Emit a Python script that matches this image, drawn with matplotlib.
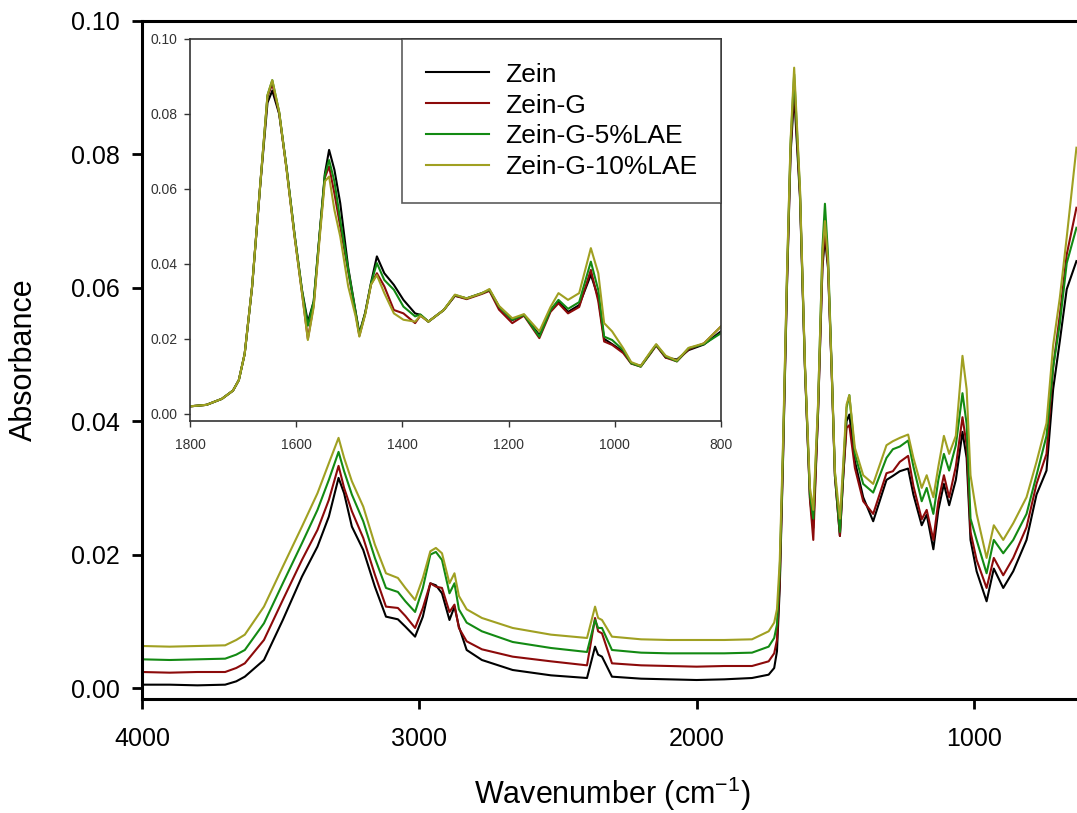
import matplotlib
matplotlib.use("Agg")
import matplotlib.pyplot as plt

plt.rcParams['font.family'] = ['Liberation Sans', 'DejaVu Sans']

# ======================================================
# FTIR spectra (full range)
# ======================================================
labels = ["Zein", "Zein-G", "Zein-G-5%LAE", "Zein-G-10%LAE"]
colors = ["#000000", "#8c0a0a", "#138a13", "#a0a022"]

wn_full = [4000, 3900, 3800, 3700, 3660, 3629, 3560, 3492, 3423, 3367, 3326, 3291, 3271, 3243,
           3202, 3160, 3120, 3077, 3050, 3015, 2987, 2960, 2940, 2918, 2891, 2873, 2857, 2829,
           2774, 2663, 2525, 2395, 2366, 2355, 2341, 2305, 2200, 2100, 2000, 1900, 1800, 1740,
           1720, 1710, 1700, 1688, 1674, 1661, 1648, 1627, 1609, 1591, 1579, 1562, 1546, 1537,
           1526, 1513, 1501, 1483, 1472, 1459, 1449, 1429, 1399, 1363, 1315, 1292, 1267, 1237,
           1218, 1188, 1170, 1146, 1128, 1108, 1089, 1065, 1041, 1026, 1012, 990, 954, 928,
           894, 858, 810, 774, 738, 714, 690, 665, 630]

zein = [0.0005, 0.0005, 0.0004, 0.0005, 0.0010, 0.0017, 0.0042, 0.0102, 0.0167, 0.0212, 0.0257,
        0.0315, 0.0292, 0.0242, 0.0207, 0.0152, 0.0107, 0.0103, 0.0092, 0.0077, 0.0107, 0.0157,
        0.0154, 0.0142, 0.0102, 0.0122, 0.0092, 0.0057, 0.0042, 0.0027, 0.0019, 0.0015, 0.0062,
        0.0050, 0.0047, 0.0017, 0.0014, 0.0013, 0.0012, 0.0013, 0.0015, 0.0020, 0.0030, 0.0055,
        0.0150, 0.0345, 0.0600, 0.0800, 0.0890, 0.0735, 0.0478, 0.0285, 0.0240, 0.0410, 0.0630,
        0.0676, 0.0630, 0.0478, 0.0318, 0.0228, 0.0310, 0.0400, 0.0410, 0.0340, 0.0286, 0.0250,
        0.0312, 0.0318, 0.0325, 0.0329, 0.0290, 0.0244, 0.0260, 0.0208, 0.0267, 0.0306, 0.0274,
        0.0312, 0.0384, 0.0345, 0.0222, 0.0175, 0.0130, 0.0179, 0.0150, 0.0175, 0.0222, 0.0290,
        0.0326, 0.0448, 0.0520, 0.0598, 0.0640]

zein_g = [0.0024, 0.0023, 0.0024, 0.0024, 0.0030, 0.0037, 0.0072, 0.0132, 0.0192, 0.0237, 0.0282,
          0.0333, 0.0300, 0.0265, 0.0225, 0.0170, 0.0122, 0.0120, 0.0108, 0.0090, 0.0120, 0.0157,
          0.0152, 0.0150, 0.0114, 0.0125, 0.0090, 0.0070, 0.0058, 0.0047, 0.0040, 0.0034, 0.0105,
          0.0085, 0.0082, 0.0037, 0.0034, 0.0033, 0.0032, 0.0033, 0.0033, 0.0040, 0.0052, 0.0072,
          0.0160, 0.0350, 0.0605, 0.0805, 0.0905, 0.0740, 0.0480, 0.0282, 0.0222, 0.0412, 0.0635,
          0.0690, 0.0635, 0.0480, 0.0318, 0.0228, 0.0312, 0.0390, 0.0394, 0.0330, 0.0280, 0.0261,
          0.0322, 0.0325, 0.0339, 0.0348, 0.0303, 0.0253, 0.0267, 0.0222, 0.0280, 0.0319, 0.0286,
          0.0332, 0.0406, 0.0364, 0.0234, 0.0192, 0.0150, 0.0195, 0.0169, 0.0195, 0.0241, 0.0306,
          0.0351, 0.0481, 0.0559, 0.0650, 0.0720]

zein_g_5 = [0.0043, 0.0042, 0.0043, 0.0044, 0.0050, 0.0057, 0.0097, 0.0157, 0.0217, 0.0267, 0.0312,
            0.0354, 0.0325, 0.0290, 0.0250, 0.0195, 0.0150, 0.0144, 0.0130, 0.0114, 0.0150, 0.0200,
            0.0204, 0.0192, 0.0142, 0.0157, 0.0118, 0.0098, 0.0085, 0.0069, 0.0060, 0.0054, 0.0102,
            0.0090, 0.0090, 0.0057, 0.0053, 0.0052, 0.0052, 0.0052, 0.0053, 0.0062, 0.0075, 0.0095,
            0.0175, 0.0360, 0.0615, 0.0815, 0.0920, 0.0745, 0.0482, 0.0290, 0.0254, 0.0420, 0.0660,
            0.0726, 0.0650, 0.0485, 0.0322, 0.0234, 0.0320, 0.0420, 0.0439, 0.0351, 0.0306, 0.0293,
            0.0345, 0.0358, 0.0362, 0.0371, 0.0332, 0.0280, 0.0300, 0.0261, 0.0312, 0.0351, 0.0326,
            0.0364, 0.0442, 0.0396, 0.0254, 0.0222, 0.0172, 0.0222, 0.0202, 0.0222, 0.0261, 0.0319,
            0.0378, 0.0481, 0.0546, 0.0637, 0.0690]

zein_g_10 = [0.0063, 0.0062, 0.0063, 0.0064, 0.0072, 0.0080, 0.0122, 0.0182, 0.0242, 0.0292, 0.0337,
             0.0375, 0.0345, 0.0310, 0.0272, 0.0215, 0.0172, 0.0165, 0.0150, 0.0132, 0.0165, 0.0205,
             0.0210, 0.0202, 0.0157, 0.0172, 0.0138, 0.0118, 0.0105, 0.0090, 0.0080, 0.0075, 0.0122,
             0.0105, 0.0102, 0.0077, 0.0073, 0.0072, 0.0072, 0.0072, 0.0073, 0.0085, 0.0098, 0.0118,
             0.0190, 0.0370, 0.0620, 0.0820, 0.0930, 0.0750, 0.0485, 0.0300, 0.0267, 0.0425, 0.0650,
             0.0700, 0.0640, 0.0482, 0.0325, 0.0254, 0.0330, 0.0425, 0.0439, 0.0360, 0.0319, 0.0306,
             0.0364, 0.0370, 0.0375, 0.0380, 0.0345, 0.0300, 0.0319, 0.0286, 0.0332, 0.0378, 0.0351,
             0.0378, 0.0498, 0.0448, 0.0319, 0.0261, 0.0195, 0.0244, 0.0222, 0.0247, 0.0286, 0.0339,
             0.0397, 0.0514, 0.0585, 0.0676, 0.0810]

# ======================================================
# Amide / fingerprint region (inset, 1800-800)
# ======================================================
wn_zoom = [1800, 1769, 1740, 1719, 1708, 1697, 1683, 1668, 1654, 1645, 1632, 1618, 1603, 1589,
           1578, 1567, 1556, 1546, 1538, 1528, 1517, 1502, 1488, 1481, 1470, 1459, 1448, 1434,
           1416, 1398, 1376, 1366, 1351, 1322, 1301, 1279, 1250, 1236, 1218, 1193, 1171, 1142,
           1121, 1106, 1088, 1067, 1045, 1031, 1020, 1005, 984, 969, 951, 933, 922, 904, 883,
           861, 832, 800]

zein_zoom = [0.0020, 0.0024, 0.0040, 0.0062, 0.0090, 0.0160, 0.0338, 0.0604, 0.0830, 0.0862,
             0.0800, 0.0655, 0.0478, 0.0330, 0.0245, 0.0300, 0.0478, 0.0640, 0.0704, 0.0651,
             0.0562, 0.0390, 0.0272, 0.0215, 0.0270, 0.0350, 0.0420, 0.0375, 0.0344, 0.0304,
             0.0268, 0.0264, 0.0246, 0.0277, 0.0315, 0.0308, 0.0322, 0.0330, 0.0286, 0.0250,
             0.0264, 0.0210, 0.0277, 0.0300, 0.0272, 0.0290, 0.0371, 0.0310, 0.0200, 0.0186,
             0.0166, 0.0135, 0.0128, 0.0162, 0.0184, 0.0150, 0.0145, 0.0170, 0.0185, 0.0220]

zein_g_zoom = [0.0020, 0.0024, 0.0040, 0.0062, 0.0090, 0.0160, 0.0340, 0.0606, 0.0846, 0.0880,
               0.0802, 0.0651, 0.0473, 0.0322, 0.0200, 0.0290, 0.0473, 0.0630, 0.0660, 0.0588,
               0.0500, 0.0380, 0.0268, 0.0208, 0.0268, 0.0345, 0.0375, 0.0340, 0.0277, 0.0268,
               0.0242, 0.0262, 0.0246, 0.0277, 0.0315, 0.0306, 0.0320, 0.0328, 0.0278, 0.0242,
               0.0262, 0.0202, 0.0272, 0.0295, 0.0268, 0.0285, 0.0384, 0.0300, 0.0193, 0.0184,
               0.0162, 0.0134, 0.0126, 0.0160, 0.0182, 0.0150, 0.0140, 0.0172, 0.0188, 0.0233]

zein_g_5_zoom = [0.0020, 0.0024, 0.0040, 0.0062, 0.0090, 0.0160, 0.0340, 0.0606, 0.0850, 0.0890,
                 0.0805, 0.0655, 0.0478, 0.0328, 0.0235, 0.0300, 0.0478, 0.0636, 0.0677, 0.0620,
                 0.0517, 0.0385, 0.0270, 0.0212, 0.0268, 0.0348, 0.0402, 0.0357, 0.0331, 0.0286,
                 0.0260, 0.0265, 0.0246, 0.0277, 0.0317, 0.0308, 0.0322, 0.0331, 0.0286, 0.0251,
                 0.0264, 0.0206, 0.0277, 0.0304, 0.0280, 0.0298, 0.0406, 0.0330, 0.0206, 0.0197,
                 0.0170, 0.0135, 0.0126, 0.0162, 0.0184, 0.0153, 0.0140, 0.0175, 0.0186, 0.0215]

zein_g_10_zoom = [0.0020, 0.0024, 0.0040, 0.0062, 0.0090, 0.0160, 0.0340, 0.0606, 0.0850, 0.0890,
                  0.0805, 0.0651, 0.0473, 0.0322, 0.0197, 0.0285, 0.0465, 0.0620, 0.0633, 0.0544,
                  0.0473, 0.0340, 0.0260, 0.0206, 0.0265, 0.0345, 0.0370, 0.0322, 0.0268, 0.0251,
                  0.0246, 0.0262, 0.0246, 0.0277, 0.0318, 0.0308, 0.0322, 0.0333, 0.0288, 0.0255,
                  0.0266, 0.0220, 0.0285, 0.0322, 0.0304, 0.0322, 0.0442, 0.0375, 0.0242, 0.0220,
                  0.0175, 0.0138, 0.0128, 0.0165, 0.0186, 0.0155, 0.0142, 0.0176, 0.0188, 0.0233]

full_series = [zein, zein_g, zein_g_5, zein_g_10]
zoom_series = [zein_zoom, zein_g_zoom, zein_g_5_zoom, zein_g_10_zoom]

x_ticks = [4000, 3000, 2000, 1000]
y_ticks = [0.00, 0.02, 0.04, 0.06, 0.08, 0.10]
x_ticks_zoom = [1800, 1600, 1400, 1200, 1000, 800]

# ======================================================
# Main plot
# ======================================================
fig = plt.figure(figsize=(10.77, 8.13), dpi=100)
ax = fig.add_axes([0.1318, 0.1402, 0.8682, 0.8340])

for vals, c in zip(full_series, colors):
    ax.plot(wn_full, vals, color=c, lw=1.5)

ax.set_xlim(4000, 628)
ax.set_ylim(-0.00165, 0.10)
ax.set_xticks(x_ticks)
ax.set_yticks(y_ticks)
ax.set_yticklabels([f"{v:.2f}" for v in y_ticks])
ax.tick_params(axis='both', direction='out', length=7, width=2, labelsize=18)
ax.tick_params(axis='x', pad=13)
ax.tick_params(axis='y', pad=9)
for side in ['left', 'bottom', 'top']:
    ax.spines[side].set_linewidth(2.2)
ax.spines['right'].set_visible(False)

fig.text(24 / 1077, 1 - 360 / 813, "Absorbance", rotation=90,
         ha='center', va='center', fontsize=22)
fig.text(612 / 1077, 1 - 804 / 813, r"Wavenumber (cm$^{\mathregular{-1}}$)",
         ha='center', va='baseline', fontsize=22)

# ======================================================
# Inset
# ======================================================
axin = fig.add_axes([0.1764, 0.4822, 0.4930, 0.4699])
for vals, c, lab in zip(zoom_series, colors, labels):
    axin.plot(wn_zoom, vals, color=c, lw=1.5, label=lab)

axin.set_xlim(1800, 800)
axin.set_ylim(-0.0019, 0.10)
axin.set_xticks(x_ticks_zoom)
axin.set_yticks(y_ticks)
axin.set_yticklabels([f"{v:.2f}" for v in y_ticks])
axin.tick_params(axis='both', direction='out', length=4, width=1, labelsize=10,
                 colors='#333333')
axin.tick_params(axis='x', pad=8)
axin.tick_params(axis='y', pad=5)
for sp in axin.spines.values():
    sp.set_linewidth(1.2)
    sp.set_color('#333333')

leg = axin.legend(loc='upper right', fontsize=19, frameon=True, fancybox=False,
                  borderaxespad=0, borderpad=0.9, handlelength=2.4,
                  handletextpad=0.6, labelspacing=0.26)
leg.get_frame().set_edgecolor('#333333')
leg.get_frame().set_linewidth(1.2)

plt.savefig("out.png", dpi=100)
plt.close()
